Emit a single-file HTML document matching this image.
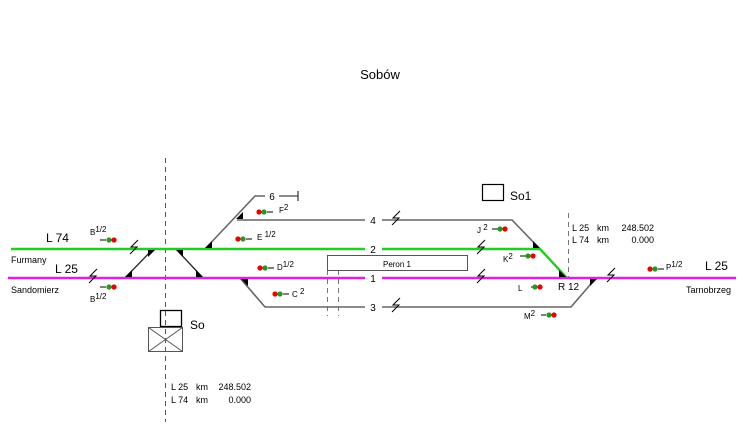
<!DOCTYPE html>
<html><head><style>body{margin:0;background:#fff}svg{display:block}text{font-family:"Liberation Sans",sans-serif;fill:#000}</style></head><body>
<svg width="746" height="438" viewBox="0 0 746 438" xmlns="http://www.w3.org/2000/svg">
<rect width="746" height="438" fill="#fff"/>
<text x="380" y="79" font-size="13" text-anchor="middle">Sobów</text>
<line x1="165.5" y1="158" x2="165.5" y2="422" stroke="#555" stroke-dasharray="5,4"/>
<line x1="568.5" y1="213" x2="568.5" y2="278" stroke="#777" stroke-dasharray="5,4"/>
<line x1="327.5" y1="270" x2="327.5" y2="316" stroke="#777" stroke-dasharray="5,4"/>
<line x1="338.5" y1="270" x2="338.5" y2="316" stroke="#777" stroke-dasharray="5,4"/>
<g stroke="#666" stroke-width="1.6" fill="none">
<polyline points="237,220 365,220"/><polyline points="382,220 512,220 540,249"/>
<polyline points="240,278 265,307 365,307"/><polyline points="382,307 571,307 596,278"/>
<polyline points="205,249 255,196 265,196"/>
<line x1="279" y1="196" x2="298" y2="196"/>
</g>
<line x1="298" y1="191" x2="298" y2="201" stroke="#333" stroke-width="1.2"/>
<g stroke="#222" stroke-width="1.3" fill="none">
<line x1="125" y1="278" x2="153" y2="249"/><line x1="176" y1="249" x2="203" y2="278"/>
</g>
<g stroke="#22cc22" stroke-width="2.4" fill="none">
<line x1="11" y1="249" x2="365" y2="249"/><polyline points="382,249 540,249 567,278"/>
</g>
<g stroke="#e020e0" stroke-width="2.4" fill="none">
<line x1="8" y1="278" x2="365" y2="278"/><line x1="382" y1="278" x2="736" y2="278"/>
</g>
<g fill="#000">
<polygon points="148,250 155,250 148,257"/>
<polygon points="176,250 183,250 183,257"/>
<polygon points="125,277 132,277 132,270"/>
<polygon points="203,277 196,277 196,270"/>
<polygon points="205,248 212,248 212,241"/>
<polygon points="236,219 243,219 243,212"/>
<polygon points="241,279 248,279 248,286"/>
<polygon points="540,248 533,248 533,241"/>
<polygon points="566,277 559,277 559,270"/>
<polygon points="590,279 597,279 590,286"/>
</g>
<rect x="327.5" y="255.5" width="140" height="15" fill="#fff" stroke="#555"/>
<text x="397" y="267" font-size="8" text-anchor="middle">Peron 1</text>
<g font-size="10" text-anchor="middle"><text x="373" y="224">4</text><text x="373" y="253">2</text><text x="373" y="282">1</text><text x="373" y="311">3</text><text x="272" y="200">6</text></g>
<rect x="160.5" y="310.5" width="21" height="16" fill="none" stroke="#000" stroke-width="1.3"/>
<g stroke="#555" fill="none"><rect x="148.5" y="327.5" width="34" height="24"/><line x1="148.5" y1="327.5" x2="182.5" y2="351.5"/><line x1="182.5" y1="327.5" x2="148.5" y2="351.5"/></g>
<text x="190" y="329" font-size="12">So</text>
<rect x="482.5" y="184.5" width="21" height="16" fill="none" stroke="#000" stroke-width="1.2"/>
<text x="510" y="200" font-size="12">So1</text>
<text x="46" y="242" font-size="12">L 74</text>
<text x="55" y="273" font-size="12">L 25</text>
<text x="11" y="263" font-size="9">Furmany</text>
<text x="11" y="293" font-size="9">Sandomierz</text>
<text x="705" y="270" font-size="12">L 25</text>
<text x="686" y="293" font-size="9">Tarnobrzeg</text>
<text x="558" y="290" font-size="10">R 12</text>
<g font-size="9">
<text x="572" y="231">L 25</text><text x="597" y="231">km</text><text x="654" y="231" text-anchor="end">248.502</text>
<text x="572" y="243">L 74</text><text x="597" y="243">km</text><text x="654" y="243" text-anchor="end">0.000</text>
<text x="171" y="390">L 25</text><text x="196" y="390">km</text><text x="251" y="390" text-anchor="end">248.502</text>
<text x="171" y="403">L 74</text><text x="196" y="403">km</text><text x="251" y="403" text-anchor="end">0.000</text>
</g>
<g stroke="#000" stroke-width="1" fill="none">
<polyline points="138,240 131,247 137,247 130,254"/>
<polyline points="97,269 90,276 96,276 89,283"/>
<polyline points="400,211 393,218 399,218 392,225"/>
<polyline points="400,298 393,305 399,305 392,312"/>
<polyline points="485,240 478,247 484,247 477,254"/>
<polyline points="485,269 478,276 484,276 477,283"/>
<polyline points="615,268 608,275 614,275 607,282"/>
</g>
<g font-size="8">
<text x="90" y="235">B<tspan dy="-3">1/2</tspan></text>
<line x1="100" y1="240" x2="106" y2="240" stroke="#000"/><circle cx="109" cy="240" r="2.6" fill="#229922"/><circle cx="114" cy="240" r="2.6" fill="#e00"/>
<text x="90" y="302">B<tspan dy="-3">1/2</tspan></text>
<line x1="100" y1="287" x2="106" y2="287" stroke="#000"/><circle cx="109" cy="287" r="2.6" fill="#229922"/><circle cx="114" cy="287" r="2.6" fill="#e00"/>
<circle cx="259" cy="212" r="2.6" fill="#e00"/><circle cx="264" cy="212" r="2.6" fill="#229922"/><line x1="267" y1="212" x2="273" y2="212" stroke="#000"/>
<text x="279" y="213">F<tspan dy="-3">2</tspan></text>
<circle cx="238" cy="239" r="2.6" fill="#e00"/><circle cx="243" cy="239" r="2.6" fill="#229922"/><line x1="246" y1="239" x2="252" y2="239" stroke="#000"/>
<text x="257" y="240">E <tspan dy="-3">1/2</tspan></text>
<circle cx="260" cy="268" r="2.6" fill="#e00"/><circle cx="265" cy="268" r="2.6" fill="#229922"/><line x1="268" y1="268" x2="274" y2="268" stroke="#000"/>
<text x="277" y="270">D<tspan dy="-3">1/2</tspan></text>
<circle cx="275" cy="294" r="2.6" fill="#e00"/><circle cx="280" cy="294" r="2.6" fill="#229922"/><line x1="283" y1="294" x2="289" y2="294" stroke="#000"/>
<text x="292" y="297">C <tspan dy="-3">2</tspan></text>
<text x="477" y="233">J <tspan dy="-3">2</tspan></text>
<line x1="492" y1="229" x2="498" y2="229" stroke="#000"/><circle cx="500" cy="229" r="2.6" fill="#229922"/><circle cx="505" cy="229" r="2.6" fill="#e00"/>
<text x="503" y="262">K<tspan dy="-3">2</tspan></text>
<line x1="520" y1="256" x2="526" y2="256" stroke="#000"/><circle cx="528" cy="256" r="2.6" fill="#229922"/><circle cx="533" cy="256" r="2.6" fill="#e00"/>
<text x="518" y="291">L</text>
<line x1="531" y1="287" x2="535" y2="287" stroke="#000"/><circle cx="535" cy="287" r="2.6" fill="#229922"/><circle cx="540" cy="287" r="2.6" fill="#e00"/>
<text x="524" y="319">M<tspan dy="-3">2</tspan></text>
<line x1="541" y1="315" x2="546" y2="315" stroke="#000"/><circle cx="549" cy="315" r="2.6" fill="#229922"/><circle cx="554" cy="315" r="2.6" fill="#e00"/>
<circle cx="650" cy="269" r="2.6" fill="#e00"/><circle cx="655" cy="269" r="2.6" fill="#229922"/><line x1="658" y1="269" x2="664" y2="269" stroke="#000"/>
<text x="666" y="270">P<tspan dy="-3">1/2</tspan></text>
</g>
</svg>
</body></html>
